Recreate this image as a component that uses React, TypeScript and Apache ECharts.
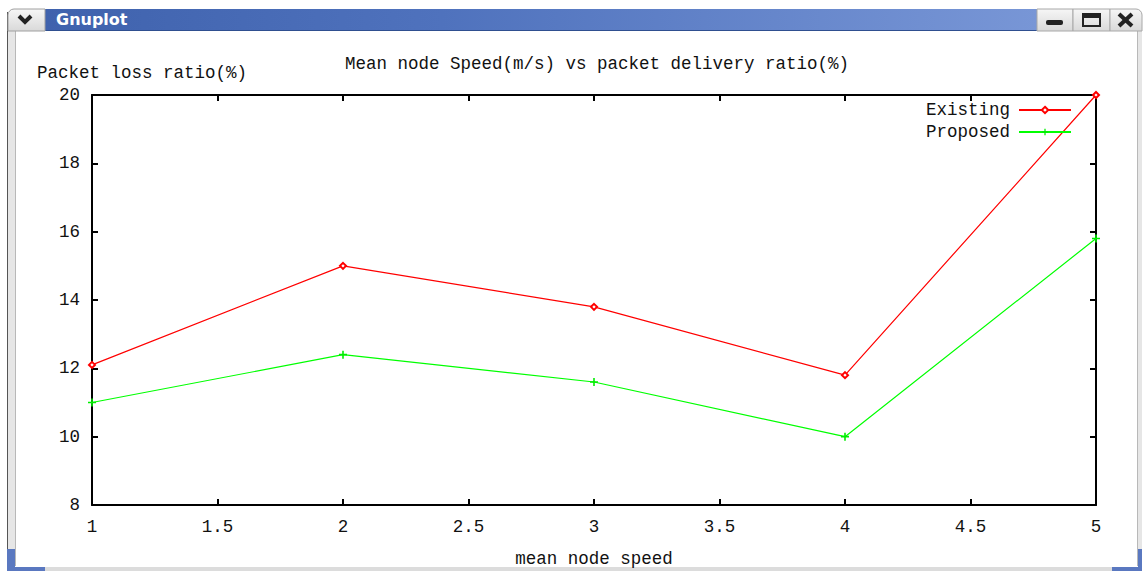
import React, { useEffect, useRef } from "react";
import * as echarts from "echarts";

const speeds = [1, 2, 3, 4, 5];
const existing = [12.1, 15.0, 13.8, 11.8, 20.0];
const proposed = [11.0, 12.4, 11.6, 10.0, 15.8];
const seriesNames = ["Existing", "Proposed"];
const titleText = "Mean node Speed(m/s) vs packet delivery ratio(%)";
const yName = "Packet loss ratio(%)";
const xName = "mean node speed";
const windowTitle = "Gnuplot";

const FONT = "'Liberation Mono', 'DejaVu Sans Mono', monospace";
const PLUS = "path://M4,0h2v4h4v2h-4v4h-2v-4h-4v-2h4z";

export default function App() {
  const ref = useRef<HTMLDivElement>(null);
  useEffect(() => {
    if (!ref.current) return;
    const chart = echarts.init(ref.current, null, { renderer: "svg" });
    const txt = { color: "#111", fontFamily: FONT, fontSize: 17.5 };
    const btnFill = new echarts.graphic.LinearGradient(0, 0, 0, 1, [
      { offset: 0, color: "#f6f6f6" },
      { offset: 1, color: "#d9d9d9" },
    ]);
    const axisBase = {
      type: "value" as const,
      axisLine: { show: true, lineStyle: { color: "#000", width: 2 } },
      axisTick: { show: true, inside: true, length: 6, lineStyle: { color: "#000", width: 2 } },
      splitLine: { show: false },
    };
    chart.setOption({
      animation: false,
      backgroundColor: "#fff",
      title: {
        text: titleText,
        left: 592,
        textAlign: "center",
        top: 50,
        textStyle: { ...txt, fontWeight: "normal" },
      },
      legend: {
        orient: "vertical",
        right: 75,
        top: 100,
        padding: 0,
        align: "right",
        itemWidth: 52,
        itemHeight: 8,
        itemGap: 2,
        textStyle: { ...txt, padding: [0, 4, 0, 0], lineHeight: 20 },
        data: seriesNames,
      },
      grid: { left: 92, right: 51, top: 95, bottom: 69, containLabel: false },
      xAxis: [
        {
          ...axisBase,
          position: "bottom",
          min: 1,
          max: 5,
          interval: 0.5,
          axisLabel: { ...txt, margin: 13 },
          name: xName,
          nameLocation: "middle",
          nameGap: 45,
          nameTextStyle: txt,
        },
        {
          ...axisBase,
          position: "top",
          min: 1,
          max: 5,
          interval: 0.5,
          axisLabel: { show: false },
        },
      ],
      yAxis: [
        {
          ...axisBase,
          position: "left",
          min: 8,
          max: 20,
          interval: 2,
          axisLabel: { ...txt, margin: 12 },
        },
        {
          ...axisBase,
          position: "right",
          min: 8,
          max: 20,
          interval: 2,
          axisLabel: { show: false },
        },
      ],
      series: [
        {
          name: seriesNames[0],
          type: "line",
          data: speeds.map((s, i) => [s, existing[i]]),
          color: "#ff0000",
          lineStyle: { width: 1.2, color: "#ff0000" },
          symbol: "emptyDiamond",
          symbolSize: 6,
          itemStyle: { color: "#ff0000", borderColor: "#ff0000", borderWidth: 1 },
        },
        {
          name: seriesNames[1],
          type: "line",
          data: speeds.map((s, i) => [s, proposed[i]]),
          color: "#00ff00",
          lineStyle: { width: 1.2, color: "#00ff00" },
          symbol: PLUS,
          symbolSize: 8,
          itemStyle: { color: "#00ee00" },
        },
      ],
      graphic: [
        // y-axis name
        { type: "text", left: 37, top: 64, style: { text: yName, fill: "#111", font: `17.5px ${FONT}` } },
        // window frame left
        { type: "rect", shape: { x: 7, y: 31, width: 8, height: 540 }, style: { fill: "#e6e6e6" }, silent: true },
        { type: "line", shape: { x1: 7.5, y1: 12, x2: 7.5, y2: 571 }, style: { stroke: "#555", lineWidth: 1 } },
        { type: "line", shape: { x1: 15.5, y1: 31, x2: 15.5, y2: 566 }, style: { stroke: "#b8b8b8", lineWidth: 1 } },
        // right frame
        { type: "rect", shape: { x: 1138, y: 31, width: 4, height: 540 }, style: { fill: "#e6e6e6" } },
        { type: "line", shape: { x1: 1137.5, y1: 31, x2: 1137.5, y2: 566 }, style: { stroke: "#b8b8b8", lineWidth: 1 } },
        // bottom frame
        { type: "rect", shape: { x: 7, y: 567, width: 1135, height: 4 }, style: { fill: "#dcdcdc" } },
        // blue corners
        { type: "rect", shape: { x: 7, y: 549, width: 8, height: 22 }, style: { fill: "#5a78c0" } },
        { type: "rect", shape: { x: 7, y: 567, width: 38, height: 4 }, style: { fill: "#5a78c0" } },
        { type: "rect", shape: { x: 1138, y: 549, width: 4, height: 22 }, style: { fill: "#5a78c0" } },
        { type: "rect", shape: { x: 1112, y: 567, width: 30, height: 4 }, style: { fill: "#5a78c0" } },
        // title bar blue
        {
          type: "rect",
          shape: { x: 45, y: 9, width: 992, height: 22 },
          style: {
            fill: new echarts.graphic.LinearGradient(0, 0, 1, 0, [
              { offset: 0, color: "#3f62ad" },
              { offset: 0.4, color: "#4f72bd" },
              { offset: 1, color: "#7896d6" },
            ]),
          },
        },
        { type: "line", shape: { x1: 45, y1: 30.5, x2: 1037, y2: 30.5 }, style: { stroke: "#2f4f90", lineWidth: 1 } },
        {
          type: "text",
          left: 56,
          top: 11,
          style: { text: windowTitle, fill: "#fff", font: "bold 16px 'DejaVu Sans', sans-serif" },
        },
        // left menu button
        { type: "rect", shape: { x: 8, y: 9, width: 37, height: 22, r: [6, 0, 0, 0] }, style: { fill: btnFill, stroke: "#a0a0a0", lineWidth: 1 } },
        { type: "polyline", shape: { points: [[19, 16], [25, 22], [31, 16]] }, style: { stroke: "#222", lineWidth: 4, fill: "none" } },
        // minimize
        { type: "rect", shape: { x: 1037, y: 9, width: 36, height: 22 }, style: { fill: btnFill, stroke: "#a8a8a8", lineWidth: 1 } },
        { type: "rect", shape: { x: 1046, y: 20, width: 17, height: 5, r: 2 }, style: { fill: "#222" } },
        // maximize
        { type: "rect", shape: { x: 1073, y: 9, width: 37, height: 22 }, style: { fill: btnFill, stroke: "#a8a8a8", lineWidth: 1 } },
        { type: "rect", shape: { x: 1083, y: 14, width: 17, height: 12 }, style: { fill: "none", stroke: "#222", lineWidth: 2 } },
        { type: "rect", shape: { x: 1083, y: 14, width: 17, height: 4 }, style: { fill: "#222" } },
        // close
        { type: "rect", shape: { x: 1110, y: 9, width: 32, height: 22, r: [0, 6, 0, 0] }, style: { fill: btnFill, stroke: "#a8a8a8", lineWidth: 1 } },
        { type: "line", shape: { x1: 1119, y1: 14, x2: 1132, y2: 26 }, style: { stroke: "#222", lineWidth: 4 } },
        { type: "line", shape: { x1: 1132, y1: 14, x2: 1119, y2: 26 }, style: { stroke: "#222", lineWidth: 4 } },
      ],
    });
    return () => chart.dispose();
  }, []);
  return (
    <div
      ref={ref}
      style={{ position: "fixed", left: 0, top: 0, width: 1147, height: 574 }}
    />
  );
}
